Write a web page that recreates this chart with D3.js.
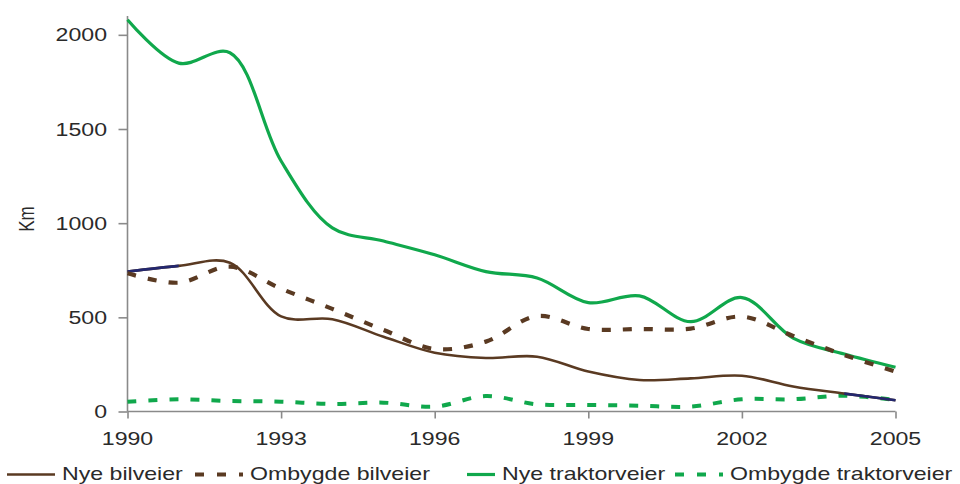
<!DOCTYPE html>
<html>
<head>
<meta charset="utf-8">
<script src="https://cdn.jsdelivr.net/npm/d3@7"></script>
<style>
  html, body { margin: 0; padding: 0; background: #fff; }
  svg { display: block; }
  text { font-family: "Liberation Sans", Arial, sans-serif; fill: #2a2a2a; }
</style>
</head>
<body>
<svg id="chart" width="960" height="484"></svg>
<script>
// Road construction per year (km)
const years = [1990,1991,1992,1993,1994,1995,1996,1997,1998,1999,2000,2001,2002,2003,2004,2005];
const nyeBilveier        = [743, 773, 790, 505, 490, 397, 312, 284, 291, 212, 167, 176, 190, 133, 95, 60];
const ombygdeBilveier    = [734, 684, 769, 652, 545, 433, 332, 371, 507, 438, 438, 440, 504, 401, 300, 212];
const nyeTraktorveier    = [2080, 1850, 1905, 1330, 975, 905, 832, 743, 709, 578, 614, 477, 605, 390, 305, 235];
const ombygdeTraktorveier= [52, 65, 56, 52, 40, 47, 26, 82, 38, 35, 31, 26, 65, 65, 84, 61];

const yTicks = [0, 500, 1000, 1500, 2000];
const xTicks = [1990, 1993, 1996, 1999, 2002, 2005];

const seriesNames = ["Nye bilveier", "Ombygde bilveier", "Nye traktorveier", "Ombygde traktorveier"];

const BROWN = "#5a3a22", GREEN = "#10a84c", NAVY = "#23276e";
const STRETCH = 1.25; // wide text glyphs

const svg = d3.select("#chart");

const x = d3.scaleLinear().domain([1990, 2005]).range([127.5, 895.5]);
const y = d3.scaleLinear().domain([0, 2100]).range([411.5, 16]);

function wideText(g, str, px, py, anchor, size) {
  return g.append("text")
    .attr("transform", `translate(${px},${py}) scale(${STRETCH},1)`)
    .attr("text-anchor", anchor)
    .attr("font-size", size)
    .text(str);
}

// Axes
const axisG = svg.append("g");
const yAxis = axisG.append("g").attr("transform", `translate(${x(1990)},0)`)
  .call(d3.axisLeft(y).tickValues(yTicks).tickSize(9).tickFormat(""));
const xAxis = axisG.append("g").attr("transform", `translate(0,${y(0)})`)
  .call(d3.axisBottom(x).tickValues(xTicks).tickSize(7).tickFormat(""));
[yAxis, xAxis].forEach(a => {
  a.select(".domain").attr("stroke", "#8a8a8a").attr("stroke-width", 1.6);
  a.selectAll(".tick line").attr("stroke", "#8a8a8a").attr("stroke-width", 1.6);
});
// plain axis lines without outer ticks
yAxis.select(".domain").attr("d", `M0,${y(0)}V${y(2100)}`);
xAxis.select(".domain").attr("d", `M${x(1990)},0H${x(2005)}`);

yTicks.forEach(t => wideText(axisG, String(t), 107, y(t) + 6.5, "end", 18.5));
xTicks.forEach(t => wideText(axisG, String(t), x(t), 445, "middle", 18.5));

// Axis title
axisG.append("text")
  .attr("transform", `translate(34,219) scale(${STRETCH},1) rotate(-90)`)
  .attr("text-anchor", "middle")
  .attr("font-size", 17)
  .text("Km");

// Lines
const line = d3.line()
  .x((d, i) => x(years[i]))
  .y(d => y(d))
  .curve(d3.curveCatmullRom.alpha(0.5));

const plot = svg.append("g");

plot.append("path").datum(ombygdeTraktorveier)
  .attr("d", line).attr("fill", "none")
  .attr("stroke", GREEN).attr("stroke-width", 4).attr("stroke-dasharray", "9,12");

plot.append("path").datum(nyeBilveier)
  .attr("d", line).attr("fill", "none")
  .attr("stroke", BROWN).attr("stroke-width", 2.6);

// first and last segment of Nye bilveier drawn in navy
const defs = svg.append("defs");
const clip = defs.append("clipPath").attr("id", "ends");
clip.append("rect").attr("x", x(1990) - 3).attr("y", 0).attr("width", x(1991) - x(1990) + 3).attr("height", 484);
clip.append("rect").attr("x", x(2004)).attr("y", 0).attr("width", x(2005) - x(2004) + 3).attr("height", 484);
plot.append("path").datum(nyeBilveier)
  .attr("d", line).attr("fill", "none")
  .attr("clip-path", "url(#ends)")
  .attr("stroke", NAVY).attr("stroke-width", 2.6);

plot.append("path").datum(nyeTraktorveier)
  .attr("d", line).attr("fill", "none")
  .attr("stroke", GREEN).attr("stroke-width", 3.2);

plot.append("path").datum(ombygdeBilveier)
  .attr("d", line).attr("fill", "none")
  .attr("stroke", BROWN).attr("stroke-width", 4.2).attr("stroke-dasharray", "9,12");

// Legend
const legend = svg.append("g");
const legendItems = [
  {name: seriesNames[0], color: BROWN, dash: null, w: 2.6, x0: 7, x1: 55, tx: 62},
  {name: seriesNames[1], color: BROWN, dash: "9,13", w: 4.2, x0: 195, x1: 243, tx: 250},
  {name: seriesNames[2], color: GREEN, dash: null, w: 3.2, x0: 467, x1: 495, tx: 502},
  {name: seriesNames[3], color: GREEN, dash: "9,13", w: 4, x0: 675, x1: 723, tx: 730}
];
legendItems.forEach(it => {
  const l = legend.append("line")
    .attr("x1", it.x0).attr("x2", it.x1).attr("y1", 474.5).attr("y2", 474.5)
    .attr("stroke", it.color).attr("stroke-width", it.w);
  if (it.dash) l.attr("stroke-dasharray", it.dash);
  wideText(legend, it.name, it.tx, 480, "start", 18.5);
});
</script>
</body>
</html>
